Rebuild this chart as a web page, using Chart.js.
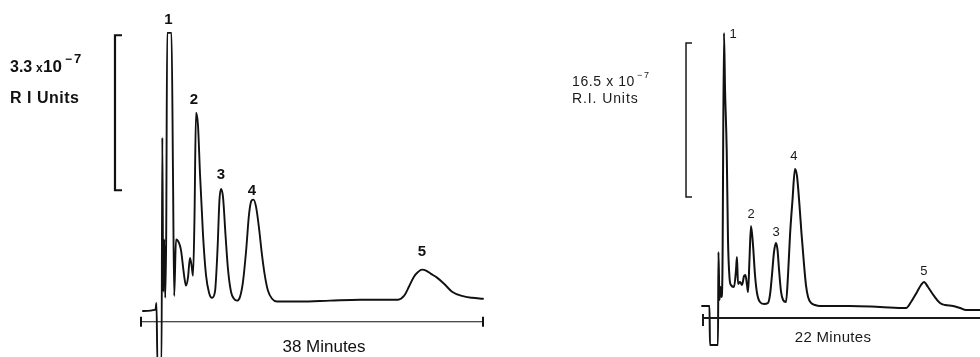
<!DOCTYPE html>
<html><head><meta charset="utf-8">
<script src="https://cdn.jsdelivr.net/npm/chart.js@4/dist/chart.umd.min.js"></script>
<style>
html,body{margin:0;padding:0;background:#fff;width:980px;height:357px;overflow:hidden}
canvas{position:absolute;left:0;top:0}
</style></head><body>
<canvas id="leftChart" width="980" height="357"></canvas>
<canvas id="rightChart" width="980" height="357"></canvas>
<script>
// ---- data (minutes after injection, detector signal in 10^-7 R.I. units above the axis) ----
const leftMinutes = [0.22,1.61,1.72,1.83,2.28,2.37,2.47,2.58,2.69,2.80,2.91,3.39,3.56,3.69,3.89,4.22,4.44,4.78,5.00,5.22,
  5.44,5.61,5.78,5.94,6.11,6.33,6.56,6.89,7.22,7.56,7.89,8.22,8.50,8.72,8.89,9.11,9.39,9.67,10.00,10.33,
  10.67,11.00,11.33,11.67,12.00,12.28,12.50,12.78,13.11,13.44,13.78,14.11,14.56,15.11,17.67,21.00,24.33,28.56,29.22,29.78,
  30.33,30.78,31.22,31.67,32.22,32.89,33.67,34.56,35.67,36.78,38.00];
const leftSignal = [0.23,0.26,0.40,-0.92,-0.92,3.92,0.64,1.75,0.51,1.83,6.15,6.15,3.02,0.55,1.75,1.68,1.53,1.00,0.77,0.94,
  1.36,1.21,0.98,2.17,4.45,4.19,3.13,1.85,1.00,0.62,0.51,0.64,1.53,2.60,2.83,2.66,1.85,1.11,0.64,0.49,
  0.45,0.53,0.85,1.49,2.28,2.58,2.60,2.45,2.00,1.43,0.96,0.66,0.49,0.43,0.43,0.45,0.47,0.47,0.55,0.75,
  0.96,1.06,1.11,1.09,1.02,0.94,0.81,0.64,0.55,0.51,0.49];
const rightMinutes = [-0.17,-0.08,0.55,0.59,1.27,1.31,1.40,1.48,1.57,1.65,1.78,1.87,2.01,2.12,2.25,2.37,2.63,2.80,2.88,2.97,
  3.14,3.31,3.48,3.60,3.73,3.82,3.94,4.07,4.24,4.41,4.58,4.83,5.17,5.51,5.68,5.85,6.02,6.19,6.32,6.45,
  6.62,6.79,7.04,7.21,7.38,7.59,7.80,7.97,8.18,8.35,8.57,8.74,8.91,9.16,9.50,9.92,12.47,15.01,17.22,17.64,
  18.15,18.49,18.74,19.08,19.59,20.10,20.53,21.20,21.80,22.31,23.49];
const rightSignal = [0.86,1.29,1.29,-2.89,-2.89,7.07,1.93,3.32,2.25,5.14,30.55,24.44,18.01,8.36,4.29,3.54,3.32,5.14,6.54,3.64,
  3.86,3.54,4.50,4.61,3.54,2.79,6.22,9.86,7.82,4.61,2.68,1.71,1.50,1.61,2.47,4.61,7.07,8.04,7.29,5.14,
  2.79,1.93,1.71,4.61,8.90,12.65,15.97,15.22,12.11,9.11,5.68,3.43,2.25,1.61,1.39,1.29,1.29,1.18,1.07,1.71,
  2.79,3.54,3.86,3.32,2.36,1.61,1.39,1.29,1.07,0.86,0.86];
const peakNames = ['1','2','3','4','5'];
const leftPeakMinutes = [3.15,6.11,8.89,12.50,31.22];
const rightPeakMinutes = [1.78,4.07,6.19,7.80,18.74];
const leftRunMinutes = 38;
const rightRunMinutes = 22;
const leftScaleBar = [2.80, 3.3];    // [bottom, height] in 10^-7 R.I. units
const rightScaleBar = [12.97, 16.5];
const leftAxisTitle = '38 Minutes';
const rightAxisTitle = '22 Minutes';

const ink = '#111';
const FONT = '"Liberation Sans", Arial, Helvetica, sans-serif';

function nearestSignal(minutes, signal, t) {
  let best = 0;
  for (let i = 1; i < minutes.length; i++) if (Math.abs(minutes[i]-t) < Math.abs(minutes[best]-t)) best = i;
  return signal[best];
}

const decor = {
  id: 'decor',
  afterDatasetsDraw(chart, args, o) {
    const ctx = chart.ctx, x = chart.scales.x, y = chart.scales.y;
    ctx.save();
    ctx.strokeStyle = o.color; ctx.fillStyle = o.color;
    // time axis
    const y0 = y.getPixelForValue(0);
    ctx.lineWidth = o.axis.width;
    ctx.beginPath();
    ctx.moveTo(x.getPixelForValue(o.axis.from), y0);
    ctx.lineTo(x.getPixelForValue(o.axis.to), y0);
    ctx.stroke();
    ctx.lineWidth = o.axis.tickWidth;
    for (const t of o.axis.ticks) {
      const px = x.getPixelForValue(t);
      ctx.beginPath(); ctx.moveTo(px, y0 - o.axis.tickUp); ctx.lineTo(px, y0 + o.axis.tickDown); ctx.stroke();
    }
    // scale bar bracket
    const b = o.bracket;
    const bx = x.getPixelForValue(b.at), bx2 = x.getPixelForValue(b.tickTo);
    const by1 = y.getPixelForValue(b.bar[0]), by2 = y.getPixelForValue(b.bar[0] + b.bar[1]);
    ctx.lineWidth = b.width;
    ctx.beginPath();
    ctx.moveTo(bx2, by2); ctx.lineTo(bx, by2); ctx.lineTo(bx, by1); ctx.lineTo(bx2, by1);
    ctx.stroke();
    // peak labels
    ctx.textAlign = 'center'; ctx.textBaseline = 'middle';
    ctx.font = o.peaks.font;
    o.peaks.minutes.forEach((t, i) => {
      const px = x.getPixelForValue(t) + o.peaks.dx[i];
      const py = y.getPixelForValue(nearestSignal(o.peaks.series[0], o.peaks.series[1], t)) + o.peaks.dy[i];
      ctx.fillText(o.peaks.names[i], px, py);
    });
    // free texts
    ctx.textBaseline = 'alphabetic';
    for (const s of o.texts) {
      ctx.font = s.font;
      if ('letterSpacing' in ctx) ctx.letterSpacing = (s.ls || 0) + 'px';
      ctx.textAlign = s.align || 'left';
      ctx.fillText(s.text, s.x, s.y);
    }
    if ('letterSpacing' in ctx) ctx.letterSpacing = '0px';
    ctx.restore();
  }
};

function makeChart(id, minutes, signal, cfg) {
  return new Chart(document.getElementById(id), {
    type: 'line',
    data: { datasets: [{
      data: minutes.map((m, i) => ({x: m, y: signal[i]})),
      borderColor: ink, borderWidth: cfg.lineWidth, pointRadius: 0,
      cubicInterpolationMode: 'monotone', clip: false, fill: false,
      borderJoinStyle: 'round', borderCapStyle: 'round'
    }]},
    options: {
      responsive: false, animation: false, devicePixelRatio: 1, events: [],
      layout: { padding: cfg.padding },
      plugins: { legend: {display: false}, tooltip: {enabled: false}, decor: cfg.decor },
      scales: {
        x: {type: 'linear', display: false, min: cfg.x[0], max: cfg.x[1]},
        y: {type: 'linear', display: false, min: cfg.y[0], max: cfg.y[1]}
      }
    },
    plugins: [decor]
  });
}

makeChart('leftChart', leftMinutes, leftSignal, {
  lineWidth: 1.9,
  padding: {left: 141, right: 497, top: 0, bottom: 0},
  x: [0, leftRunMinutes], y: [-0.75, 6.85],
  decor: {
    color: ink,
    axis: {from: 0, to: leftRunMinutes, width: 1.2, ticks: [0, leftRunMinutes], tickUp: 5, tickDown: 5, tickWidth: 2},
    bracket: {at: -2.89, tickTo: -2.11, bar: leftScaleBar, width: 2.2},
    peaks: {names: peakNames, minutes: leftPeakMinutes, series: [leftMinutes, leftSignal],
      dx: [-1, -2, 0, -1.5, 0], dy: [-13, -13, -14, -9, -18], font: 'bold 15px ' + FONT},
    texts: [
      {text: '3.3', x: 10, y: 72, font: 'bold 16px ' + FONT},
      {text: 'x', x: 36, y: 72, font: 'bold 12px ' + FONT},
      {text: '10', x: 43, y: 72, font: 'bold 17px ' + FONT},
      {text: '\u2212', x: 65, y: 63, font: 'bold 12px ' + FONT},
      {text: '7', x: 74, y: 63, font: 'bold 13px ' + FONT},
      {text: 'R I Units', x: 10, y: 103, font: 'bold 16px ' + FONT, ls: 0.5},
      {text: leftAxisTitle, x: 324, y: 352, font: '17px ' + FONT, align: 'center'}
    ]
  }
});

makeChart('rightChart', rightMinutes, rightSignal, {
  lineWidth: 2,
  padding: {left: 703, right: 0, top: 0, bottom: 0},
  x: [0, 23.49], y: [-4.18, 34.08],
  decor: {
    color: '#1a1a1a',
    axis: {from: 0, to: 23.49, width: 2, ticks: [0], tickUp: 4, tickDown: 8, tickWidth: 2},
    bracket: {at: -1.44, tickTo: -0.93, bar: rightScaleBar, width: 1.5},
    peaks: {names: peakNames, minutes: rightPeakMinutes, series: [rightMinutes, rightSignal],
      dx: [9, 0, 0, -1, 0], dy: [1, -12, -11, -13, -11], font: '13px ' + FONT},
    texts: [
      {text: '16.5 x 10', x: 572, y: 86, font: '14px ' + FONT, ls: 0.6},
      {text: '\u2212', x: 637, y: 78, font: '9px ' + FONT},
      {text: '7', x: 644, y: 78, font: '9px ' + FONT},
      {text: 'R.I. Units', x: 572, y: 103, font: '14px ' + FONT, ls: 0.9},
      {text: rightAxisTitle, x: 833, y: 342, font: '15px ' + FONT, align: 'center', ls: 0.3}
    ]
  }
});
</script>
</body></html>
